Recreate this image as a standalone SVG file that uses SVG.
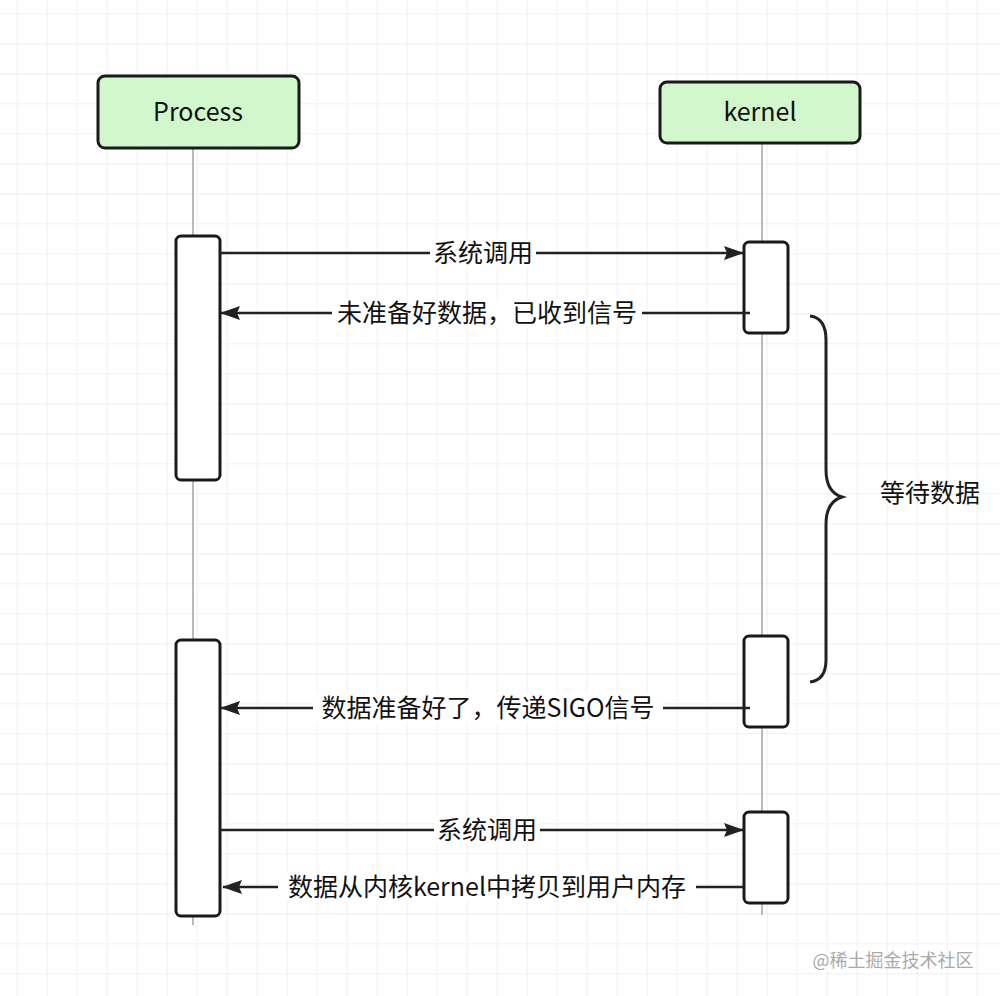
<svg xmlns="http://www.w3.org/2000/svg" width="1000" height="996" viewBox="0 0 1000 996">
<defs>
<pattern id="grid" x="16.7" y="13.3" width="30" height="30" patternUnits="userSpaceOnUse">
<path d="M0 0H30M0 0V30" fill="none" stroke="#e3e3e3" stroke-width="1"/>
</pattern>
<marker id="ah" viewBox="0 0 20 14" refX="19" refY="7" markerWidth="20" markerHeight="14" markerUnits="userSpaceOnUse" orient="auto">
<path d="M0 0L20 7L0 14L3 7Z" fill="#222"/>
</marker>
<style>
text{font-family:"Noto Sans CJK SC","Noto Sans",sans-serif;fill:#111;font-size:25px;text-anchor:middle}
.head{fill:#d3f7cd;stroke:#1a1a1a;stroke-width:3}
.act{fill:#fff;stroke:#1a1a1a;stroke-width:3}
.life{stroke:#777;stroke-width:1}
.msg{stroke:#222;stroke-width:2.5;fill:none;marker-end:url(#ah)}
.lbl{fill:#fff}
</style>
</defs>
<rect width="1000" height="996" fill="#fff"/>
<rect width="1000" height="996" fill="url(#grid)"/>
<g id="lifelines">
<line class="life" x1="193" y1="148" x2="193" y2="925"/>
<line class="life" x1="762" y1="143" x2="762" y2="915"/>
</g>
<g id="process"><rect class="head" x="98" y="76" width="201" height="72" rx="7"/><text x="198" y="121">Process</text></g>
<g id="kernel"><rect class="head" x="660" y="82" width="200" height="61" rx="7"/><text x="760" y="121">kernel</text></g>
<g id="pact1"><rect class="act" x="176" y="236" width="44" height="244" rx="5"/></g>
<g id="pact2"><rect class="act" x="176" y="640" width="44" height="276" rx="5"/></g>
<g id="kact1"><rect class="act" x="744" y="242" width="44" height="91" rx="5"/></g>
<g id="kact2"><rect class="act" x="744" y="636" width="44" height="91" rx="5"/></g>
<g id="kact3"><rect class="act" x="744" y="812" width="44" height="91" rx="5"/></g>
<g id="connectors">
<line class="msg" x1="220" y1="253" x2="743" y2="253"/>
<line class="msg" x1="750" y1="313" x2="221" y2="313"/>
<line class="msg" x1="750" y1="708" x2="221" y2="708"/>
<line class="msg" x1="220" y1="830" x2="743" y2="830"/>
<line class="msg" x1="743" y1="887" x2="223" y2="887"/>
<path d="M810 316Q826 318 826 340V470Q826 492 842 497Q826 502 826 524V660Q826 680 810 682" fill="none" stroke="#222" stroke-width="3"/>
</g>
<g id="labels">
<rect class="lbl" x="430" y="239" width="106" height="28"/><text x="483" y="262">系统调用</text>
<rect class="lbl" x="332" y="299" width="310" height="28"/><text x="487" y="322">未准备好数据，已收到信号</text>
<rect class="lbl" x="313" y="694" width="350" height="28"/><text x="488" y="717">数据准备好了，传递SIGO信号</text>
<rect class="lbl" x="434" y="816" width="106" height="28"/><text x="487" y="839">系统调用</text>
<rect class="lbl" x="278" y="873" width="418" height="28"/><text x="487" y="896">数据从内核kernel中拷贝到用户内存</text>
<text x="930" y="502">等待数据</text>
<text x="893" y="967" style="font-size:18px;fill:#aaa">@稀土掘金技术社区</text>
</g>
</svg>
